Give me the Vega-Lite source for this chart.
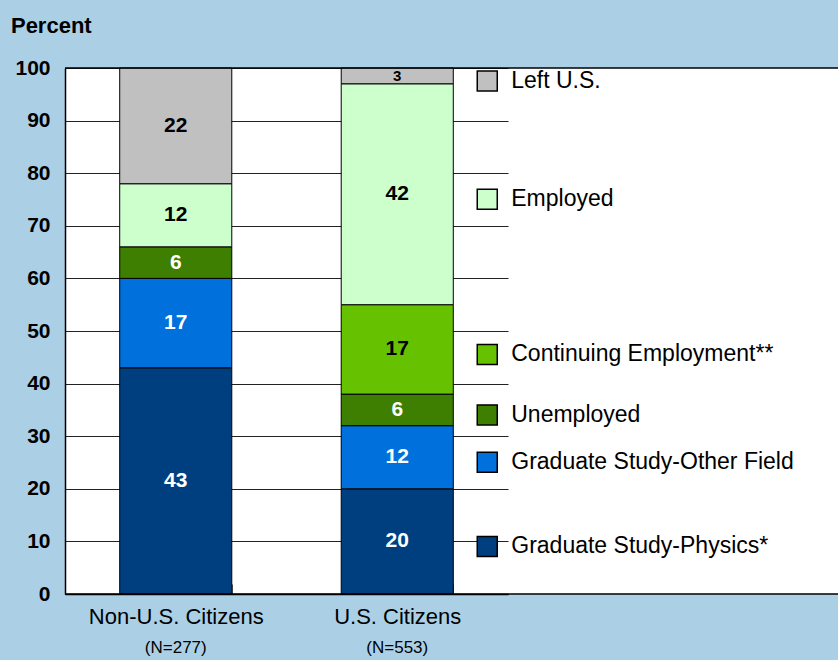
{
  "$schema": "https://vega.github.io/schema/vega-lite/v6.json",
  "width": 773,
  "height": 526,
  "autosize": {"type": "none"},
  "padding": {"left": 65, "top": 68, "right": 0, "bottom": 66},
  "background": "#abd0e6",
  "config": {"font": "Liberation Sans", "view": {"fill": "white", "stroke": null}},
  "title": {"text": "Percent", "anchor": "start", "frame": "bounds", "fontSize": 22, "fontWeight": "bold", "color": "black", "offset": 19, "dx": -4},
  "datasets": {
    "main": [
      {"group": "Non-U.S. Citizens", "category": "Graduate Study-Physics*", "k": 1, "value": 43},
      {"group": "Non-U.S. Citizens", "category": "Graduate Study-Other Field", "k": 2, "value": 17},
      {"group": "Non-U.S. Citizens", "category": "Unemployed", "k": 3, "value": 6},
      {"group": "Non-U.S. Citizens", "category": "Employed", "k": 5, "value": 12},
      {"group": "Non-U.S. Citizens", "category": "Left U.S.", "k": 6, "value": 22},
      {"group": "U.S. Citizens", "category": "Graduate Study-Physics*", "k": 1, "value": 20},
      {"group": "U.S. Citizens", "category": "Graduate Study-Other Field", "k": 2, "value": 12},
      {"group": "U.S. Citizens", "category": "Unemployed", "k": 3, "value": 6},
      {"group": "U.S. Citizens", "category": "Continuing Employment**", "k": 4, "value": 17},
      {"group": "U.S. Citizens", "category": "Employed", "k": 5, "value": 42},
      {"group": "U.S. Citizens", "category": "Left U.S.", "k": 6, "value": 3}
    ],
    "counts": [
      {"group": "Non-U.S. Citizens", "n": "(N=277)"},
      {"group": "U.S. Citizens", "n": "(N=553)"}
    ]
  },
  "data": {"name": "main"},
  "layer": [
    {
      "mark": {"type": "bar", "stroke": "black", "strokeWidth": 1},
      "encoding": {
        "x": {"field": "group", "type": "nominal", "title": null,
          "scale": {"domain": ["Non-U.S. Citizens", "U.S. Citizens"], "range": [0, 443], "paddingInner": 0.494, "paddingOuter": 0.247},
          "axis": {"labelAngle": 0, "labelFontSize": 22, "labelColor": "black", "labelPadding": 22, "domainColor": "black", "domainWidth": 1.5, "tickBand": "extent", "tickSize": -10, "tickColor": "#555", "grid": false}},
        "y": {"field": "value", "type": "quantitative", "stack": "zero", "title": null,
          "scale": {"domain": [0, 100]},
          "axis": {"values": [0, 10, 20, 30, 40, 50, 60, 70, 80, 90, 100], "labelFontSize": 21, "labelFontWeight": "bold", "labelColor": "black", "labelPadding": 15, "ticks": false, "domainColor": "black", "domainWidth": 1.5, "gridColor": "#222", "gridOpacity": 1}},
        "order": {"field": "k", "type": "quantitative"},
        "color": {"field": "category", "type": "nominal", "legend": null,
          "scale": {"domain": ["Graduate Study-Physics*", "Graduate Study-Other Field", "Unemployed", "Continuing Employment**", "Employed", "Left U.S."],
                    "range": ["#003f7f", "#0070dd", "#3e7e00", "#66c200", "#ccffcc", "#c0c0c0"]}}
      }
    },
    {
      "data": {"values": [{}]},
      "mark": {"type": "rule", "color": "black", "strokeWidth": 1.5},
      "encoding": {"y": {"datum": 100, "type": "quantitative"}}
    },
    {
      "data": {"values": [{}]},
      "mark": {"type": "rule", "color": "black", "strokeWidth": 1.5},
      "encoding": {"y": {"datum": 0, "type": "quantitative"}}
    },
    {
      "transform": [
        {"stack": "value", "groupby": ["group"], "sort": [{"field": "k"}], "as": ["v0", "v1"]},
        {"calculate": "(datum.v0 + datum.v1) / 2", "as": "mid"}
      ],
      "mark": {"type": "text", "fontWeight": "bold", "baseline": "middle", "align": "center"},
      "encoding": {
        "x": {"field": "group", "type": "nominal", "title": null},
        "y": {"field": "mid", "type": "quantitative", "title": null},
        "text": {"field": "value"},
        "size": {"condition": {"test": "datum.value < 5", "value": 15}, "value": 21},
        "color": {"condition": {"test": "datum.k >= 4", "value": "black"}, "value": "white"}
      }
    },
    {
      "transform": [
        {"stack": "value", "groupby": ["group"], "sort": [{"field": "k"}], "as": ["v0", "v1"]},
        {"calculate": "(datum.v0 + datum.v1) / 2", "as": "mid"},
        {"filter": "datum.group == 'U.S. Citizens'"}
      ],
      "mark": {"type": "point", "shape": "square", "size": 400, "filled": true, "opacity": 1, "stroke": "black", "strokeWidth": 1.5, "xOffset": 90, "yOffset": 5},
      "encoding": {
        "x": {"field": "group", "type": "nominal", "title": null},
        "y": {"field": "mid", "type": "quantitative", "title": null},
        "fill": {"field": "category", "type": "nominal", "legend": null,
          "scale": {"domain": ["Graduate Study-Physics*", "Graduate Study-Other Field", "Unemployed", "Continuing Employment**", "Employed", "Left U.S."],
                    "range": ["#003f7f", "#0070dd", "#3e7e00", "#66c200", "#ccffcc", "#c0c0c0"]}}
      }
    },
    {
      "transform": [
        {"stack": "value", "groupby": ["group"], "sort": [{"field": "k"}], "as": ["v0", "v1"]},
        {"calculate": "(datum.v0 + datum.v1) / 2", "as": "mid"},
        {"filter": "datum.group == 'U.S. Citizens'"}
      ],
      "mark": {"type": "text", "align": "left", "baseline": "middle", "dx": 114, "dy": 5, "fontSize": 23, "color": "black"},
      "encoding": {
        "x": {"field": "group", "type": "nominal", "title": null},
        "y": {"field": "mid", "type": "quantitative", "title": null},
        "text": {"field": "category"}
      }
    },
    {
      "data": {"name": "counts"},
      "mark": {"type": "text", "align": "center", "baseline": "middle", "dy": 54, "fontSize": 17, "color": "black"},
      "encoding": {
        "x": {"field": "group", "type": "nominal", "title": null},
        "y": {"datum": 0, "type": "quantitative"},
        "text": {"field": "n"}
      }
    }
  ]
}
